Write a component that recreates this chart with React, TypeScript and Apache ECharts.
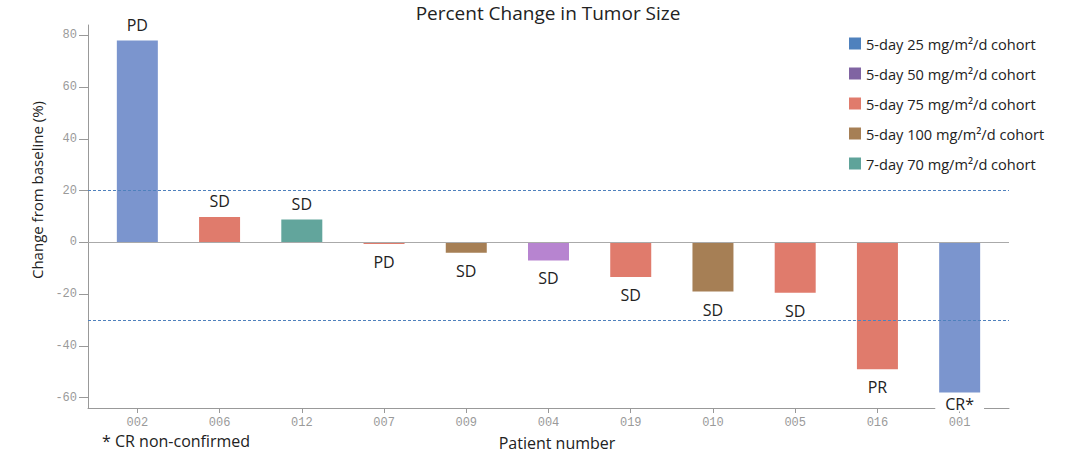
import React, { useEffect, useRef } from "react";
import * as echarts from "echarts";

const patients = ["002", "006", "012", "007", "009", "004", "019", "010", "005", "016", "001"];
const changes = [78, 9.8, 8.8, -0.6, -4, -7, -13.4, -19, -19.5, -49, -58];
const responses = ["PD", "SD", "SD", "PD", "SD", "SD", "SD", "SD", "SD", "PR", "CR*"];
const cohortOf = [0, 2, 4, 2, 3, 1, 2, 3, 2, 2, 0];
const cohorts = [
  "5-day 25 mg/m²/d cohort",
  "5-day 50 mg/m²/d cohort",
  "5-day 75 mg/m²/d cohort",
  "5-day 100 mg/m²/d cohort",
  "7-day 70 mg/m²/d cohort",
];
const barColors = ["#7b95ce", "#b784d0", "#e07b6c", "#a67f55", "#62a59c"];
const legendColors = ["#4f81bd", "#8064a2", "#e07b6c", "#a67f55", "#5fa39a"];
const yTicks = [-60, -40, -20, 0, 20, 40, 60, 80];
const thresholds = [20, -30];

const FONT = "'Open Sans', 'Noto Sans', sans-serif";
const MONO = "'Liberation Mono', 'DejaVu Sans Mono', monospace";

export default function App() {
  const ref = useRef<HTMLDivElement>(null);
  useEffect(() => {
    const chart = echarts.init(ref.current!, null, { renderer: "svg" });
    const xTicks = patients.map((_, i) => i);
    const series = cohorts.map((name, k) => ({
      name,
      type: "bar",
      barWidth: 41,
      barGap: "-100%",
      itemStyle: { color: barColors[k] },
      data: patients
        .map((_, i) =>
          cohortOf[i] === k
            ? {
                value: [i, changes[i]],
                label: {
                  show: true,
                  position: changes[i] >= 0 ? "top" : "bottom",
                  distance: responses[i] === "CR*" ? 5 : changes[i] >= 0 ? 8 : 10,
                  formatter: responses[i],
                  fontFamily: FONT,
                  fontSize: 16,
                  lineHeight: responses[i] === "CR*" ? 14 : 16,
                  color: "#222",
                  backgroundColor: responses[i] === "CR*" ? "#fff" : "transparent",
                  padding: responses[i] === "CR*" ? [0, 10] : 0,
                },
              }
            : null
        )
        .filter((d) => d !== null),
      markLine:
        k === 0
          ? {
              silent: true,
              symbol: "none",
              label: { show: false },
              data: [
                { yAxis: 0, lineStyle: { color: "#aaa", type: "solid", width: 1 } },
                ...thresholds.map((t) => ({
                  yAxis: t,
                  lineStyle: { color: "#4f81bd", type: [3, 2], width: 1 },
                })),
              ],
            }
          : undefined,
    }));

    chart.setOption({
      animation: false,
      grid: { left: 88, right: 71, top: 25, bottom: 45, containLabel: false, outerBoundsMode: "none" },
      legend: {
        orient: "vertical",
        left: 844,
        top: 31,
        itemWidth: 12,
        itemHeight: 12,
        itemGap: 15,
        icon: "rect",
        textStyle: { fontFamily: FONT, fontSize: 14.6, color: "#222" },
        data: cohorts.map((name, k) => ({ name, itemStyle: { color: legendColors[k] } })),
      },
      xAxis: {
        type: "value",
        min: -0.6,
        max: 10.6,
        axisLine: { show: true, onZero: false, lineStyle: { color: "#999" } },
        axisTick: { show: true, customValues: xTicks, length: 5, lineStyle: { color: "#999" } },
        axisLabel: {
          customValues: xTicks,
          formatter: (v: number) => patients[Math.round(v)] ?? "",
          fontFamily: MONO,
          fontSize: 12,
          color: "#9a9a9a",
          margin: 9,
        },
        splitLine: { show: false },
      },
      yAxis: {
        type: "value",
        min: -64,
        max: 84,
        axisLine: { show: true, onZero: false, lineStyle: { color: "#999" } },
        axisTick: { show: true, customValues: yTicks, length: 9, lineStyle: { color: "#999" } },
        axisLabel: {
          customValues: yTicks,
          fontFamily: MONO,
          fontSize: 12,
          color: "#9a9a9a",
          margin: 11,
        },
        splitLine: { show: false },
      },
      graphic: [
        {
          type: "text",
          x: 548,
          y: 13,
          style: {
            text: "Percent Change in Tumor Size",
            fontFamily: FONT,
            fontSize: 19,
            fill: "#222",
            align: "center",
            verticalAlign: "middle",
          },
        },
        {
          type: "text",
          x: 37,
          y: 190,
          rotation: Math.PI / 2,
          style: {
            text: "Change from baseline (%)",
            fontFamily: FONT,
            fontSize: 15,
            fill: "#222",
            align: "center",
            verticalAlign: "middle",
          },
        },
        {
          type: "text",
          x: 557,
          y: 443,
          style: {
            text: "Patient number",
            fontFamily: FONT,
            fontSize: 16,
            lineHeight: 16,
            fill: "#222",
            align: "center",
            verticalAlign: "middle",
          },
        },
        {
          type: "text",
          x: 102,
          y: 441,
          style: {
            text: "* CR non-confirmed",
            fontFamily: FONT,
            fontSize: 16,
            lineHeight: 16,
            fill: "#222",
            align: "left",
            verticalAlign: "middle",
          },
        },
      ],
      series,
    });
    return () => chart.dispose();
  }, []);
  return (
    <div
      ref={ref}
      style={{ position: "absolute", left: 0, top: 0, width: 1080, height: 453, background: "#fff" }}
    />
  );
}
